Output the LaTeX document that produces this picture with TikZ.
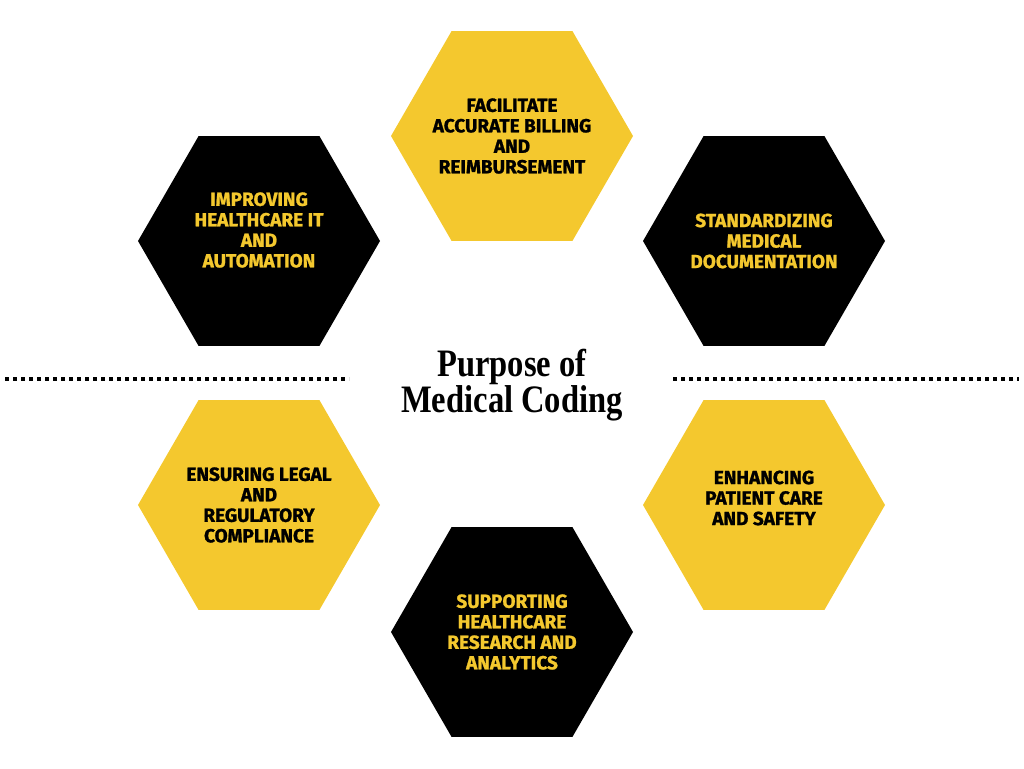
\documentclass[tikz,border=0pt]{standalone}
\usepackage{fontspec}
\usepackage{tikz}
\usetikzlibrary{shapes.geometric, positioning}
\setmainfont{Liberation Serif}
\newfontfamily\hexfont{Fira Sans}[BoldFeatures={FakeBold=1.2}]
\definecolor{hexyellow}{RGB}{244,200,46}
\tikzstyle{hexbase} = [regular polygon, regular polygon sides=6, minimum size=242pt, inner sep=0pt, draw=none]
\tikzstyle{yellowhex} = [hexbase, fill=hexyellow]
\tikzstyle{blackhex} = [hexbase, fill=black]
\tikzstyle{hextext} = [align=center, font=\hexfont\bfseries\fontsize{19}{20.5}\selectfont, inner sep=0pt]
\tikzstyle{dotline} = [line width=4pt, dash pattern=on 4pt off 4pt]

\begin{document}
\begin{tikzpicture}[x=1pt, y=-1pt]
\useasboundingbox (0,0) rectangle (1024,768);

% Hexagons
\node (billing) [yellowhex] at (512,136) {};
\node (improve) [blackhex] at (259,241) {};
\node (standard) [blackhex] at (764,241) {};
\node (legal) [yellowhex] at (259,505) {};
\node (patient) [yellowhex] at (764,505) {};
\node (research) [blackhex] at (512,632) {};

% Texts
\node (billingtext) [hextext, text=black] at (billing) {FACILITATE\\ACCURATE BILLING\\AND\\REIMBURSEMENT};
\node (improvetext) [hextext, text=hexyellow, yshift=11pt] at (improve) {IMPROVING\\HEALTHCARE IT\\AND\\AUTOMATION};
\node (standardtext) [hextext, text=hexyellow] at (standard) {STANDARDIZING\\MEDICAL\\DOCUMENTATION};
\node (legaltext) [hextext, text=black] at (legal) {ENSURING LEGAL\\AND\\REGULATORY\\COMPLIANCE};
\node (patienttext) [hextext, text=black, yshift=7pt] at (patient) {ENHANCING\\PATIENT CARE\\AND SAFETY};
\node (researchtext) [hextext, text=hexyellow] at (research) {SUPPORTING\\HEALTHCARE\\RESEARCH AND\\ANALYTICS};

% Title
\node (title) [align=center, inner sep=0pt, xscale=0.88, yscale=1.05, font=\bfseries\fontsize{37}{32}\selectfont] at (512,385) {Purpose of\\Medical Coding};

% Dotted lines
\coordinate (leftstart) at (5,379);
\coordinate (leftend) at (349,379);
\coordinate (rightstart) at (673,379);
\coordinate (rightend) at (1019,379);
\draw [dotline] (leftstart) -- (leftend);
\draw [dotline] (rightstart) -- (rightend);

\end{tikzpicture}
\end{document}
